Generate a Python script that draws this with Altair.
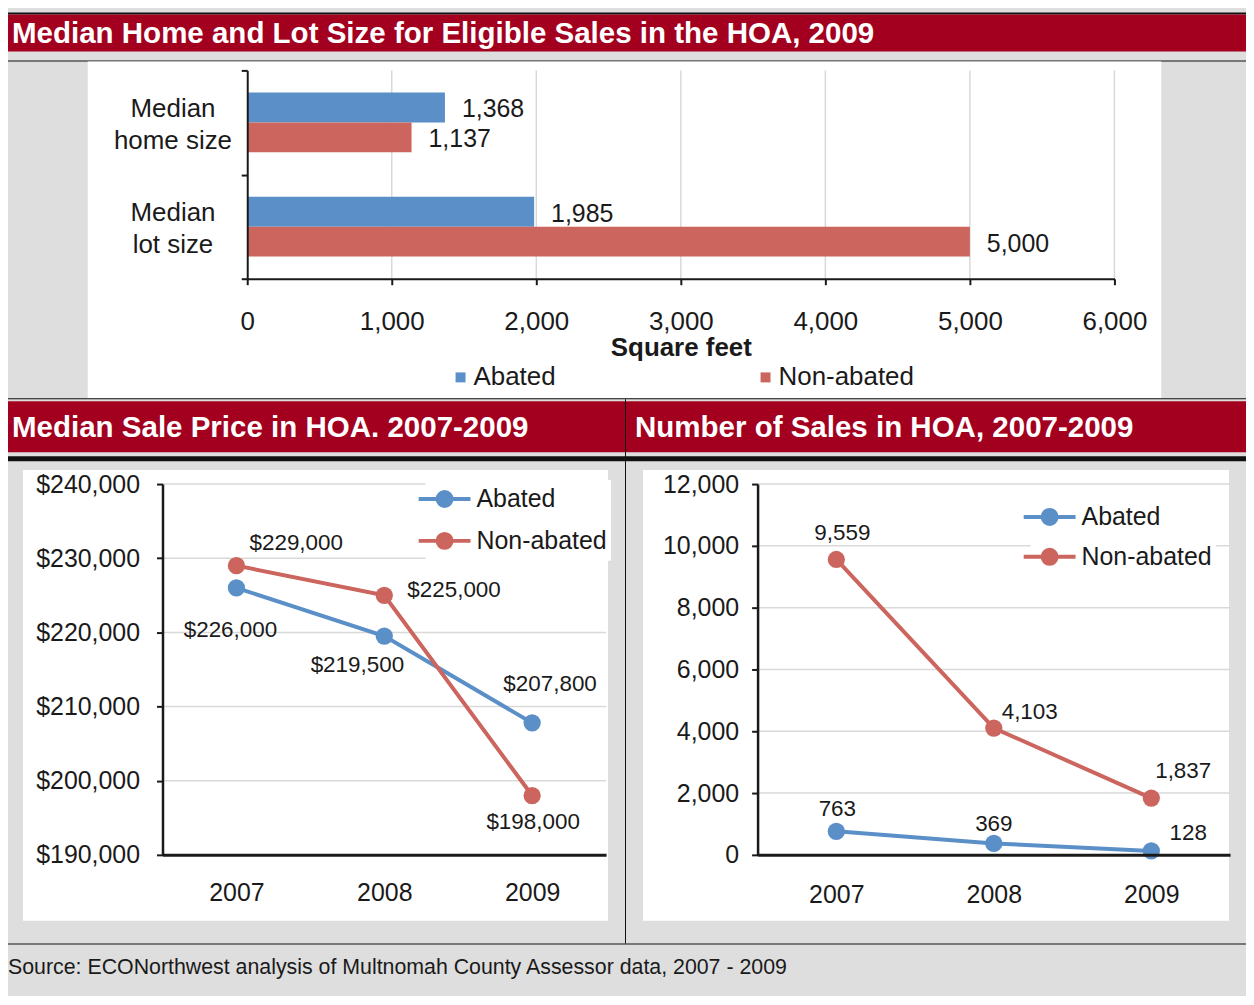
import altair as alt
import pandas as pd

# ---------------- data ----------------
series = ["Abated", "Non-abated"]

size_categories = ["Median|home size", "Median|lot size"]
home_size = [1368, 1137]          # abated, non-abated
lot_size = [1985, 5000]           # abated, non-abated
size_ticks = [0, 1000, 2000, 3000, 4000, 5000, 6000]

years = ["2007", "2008", "2009"]
price_abated = [226000, 219500, 207800]
price_non_abated = [229000, 225000, 198000]
price_ticks = [190000, 200000, 210000, 220000, 230000, 240000]

sales_abated = [763, 369, 128]
sales_non_abated = [9559, 4103, 1837]
sales_ticks = [0, 2000, 4000, 6000, 8000, 10000, 12000]

title_top = "Median Home and Lot Size for Eligible Sales in the HOA, 2009"
title_left = "Median Sale Price in HOA. 2007-2009"
title_right = "Number of Sales in HOA, 2007-2009"
source_note = "Source: ECONorthwest analysis of Multnomah County Assessor data, 2007 - 2009"

# ---------------- style ----------------
FONT = "Liberation Sans"
BLUE = "#5b8fc8"
RED = "#cb655e"
BAND = "#a3001f"
GRAY = "#dedede"
INK = "#1a1a1a"
BLACK = "#111111"
GRID = "#d9d9d9"
W, H = 1242, 988
TITLE_SIZE = 29.6
one_row = pd.DataFrame({"a": [0]})


def cscale():
    return alt.Scale(domain=series, range=[BLUE, RED])


def panel(x1, x2, y1, y2, color):
    return alt.Chart(one_row).mark_rect(color=color).encode(
        x=alt.value(x1), x2=alt.value(x2), y=alt.value(y1), y2=alt.value(y2))


def label(text, x, y, size, weight="normal", color=INK):
    return alt.Chart(pd.DataFrame({"t": [text]})).mark_text(
        align="left", baseline="alphabetic", font=FONT, fontSize=size,
        fontWeight=weight, color=color).encode(text="t:N", x=alt.value(x), y=alt.value(y))


# page decoration: bands, rules and white chart boxes (pixel frame)
decor = [
    panel(0, W, 3, 5, BLACK),
    panel(0, W, 5, 42, BAND),
    panel(0, W, 51, 52, BLACK),
    panel(80, 1157, 52, 390, "white"),
    panel(0, W, 390, 391, BLACK),
    panel(0, 619, 393, 444, BAND),
    panel(620, W, 393, 444, BAND),
    panel(0, W, 448, 453, BLACK),
    panel(619, 620, 391, 937, BLACK),
    panel(15, 602, 462, 914, "white"),
    panel(637, 1225, 462, 914, "white"),
    panel(0, W, 937, 938, BLACK),
]
texts = [
    label(title_top, 4, 34, TITLE_SIZE, "bold", "white"),
    label(title_left, 4, 429, TITLE_SIZE, "bold", "white"),
    label(title_right, 629, 429, TITLE_SIZE, "bold", "white"),
    label(source_note, 0, 968, 21.4),
]

# ---------------- bar chart (top) ----------------
BX0, BX1, BY0, BY1 = 240, 1110, 61, 270
bar_df = pd.DataFrame({
    "cat": [size_categories[0]] * 2 + [size_categories[1]] * 2,
    "series": series * 2,
    "value": home_size + lot_size,
})
bxs = alt.Scale(domain=[0, 6000], nice=False, range=[BX0, BX1])
bys = alt.Scale(domain=size_categories, paddingInner=0, paddingOuter=0, range=[BY0, BY1])
byo = alt.Scale(domain=series, paddingInner=0, paddingOuter=0.742)

bar_grid = alt.Chart(pd.DataFrame({"g": size_ticks[1:]})).mark_rule(
    color=GRID, strokeWidth=1.5).encode(
    x=alt.X("g:Q", scale=bxs), y=alt.value(BY0), y2=alt.value(BY1))
bars = alt.Chart(bar_df).mark_bar().encode(
    x=alt.X("value:Q", scale=bxs, axis=alt.Axis(
        orient="bottom", offset=BY1 - H,
        values=size_ticks, format=",.0f", title="Square feet", titleFontSize=26,
        titleFontWeight="bold", titleColor=INK, titlePadding=0, labelFontSize=26,
        labelColor=INK, labelPadding=24, tickSize=6, tickWidth=2, tickColor=INK,
        domainColor=INK, domainWidth=2, grid=False, zindex=1, labelFlush=False)),
    y=alt.Y("cat:N", scale=bys, axis=alt.Axis(
        orient="left", offset=-BX0,
        title=None, labelExpr="split(datum.label, '|')", labelAlign="center",
        labelPadding=69, labelOffset=-14, labelFontSize=26, labelLineHeight=32,
        labelColor=INK, tickBand="extent", tickSize=6, tickWidth=2, tickColor=INK,
        domainColor=INK, domainWidth=2, grid=False, zindex=1)),
    yOffset=alt.YOffset("series:N", scale=byo),
    color=alt.Color("series:N", scale=cscale(), legend=alt.Legend(
        title=None, orient="none", legendX=441, legendY=356, direction="horizontal",
        symbolType="square", symbolSize=100, symbolStrokeWidth=0, labelFontSize=26,
        labelColor=INK, labelOffset=0, columnPadding=197, padding=0)),
)
bar_labels = alt.Chart(bar_df).mark_text(
    align="left", baseline="middle", dx=17, dy=2, fontSize=25, color=INK).encode(
    x=alt.X("value:Q", scale=bxs),
    y=alt.Y("cat:N", scale=bys),
    yOffset=alt.YOffset("series:N", scale=byo),
    text=alt.Text("value:Q", format=",.0f"),
)
bar_chart = alt.layer(bar_grid, bars, bar_labels)

# ---------------- line charts ----------------
# legend glyph: a line with a disc built from concentric stroked rings (unit = 13 px)
_rings = "".join(
    f"M{r},0A{r},{r},0,1,1,-{r},0A{r},{r},0,1,1,{r},0" for r in (0.08, 0.23, 0.38, 0.54))
LEG_PATH = "M-2,0L2,0" + _rings


def line_chart(vals_a, vals_n, ticks, fmt, x0, x1, y0, y1, offsets, legend_xy,
               ylab_pad, xlab_pad, row_pad):
    df = pd.DataFrame({"year": years * 2,
                       "series": [series[0]] * 3 + [series[1]] * 3,
                       "v": vals_a + vals_n})
    xs = alt.Scale(type="point", domain=years, padding=0.5, range=[x0, x1])
    ys = alt.Scale(domain=[ticks[0], ticks[-1]], nice=False, zero=False, range=[y1, y0])
    grid = alt.Chart(pd.DataFrame({"g": ticks[1:]})).mark_rule(
        color=GRID, strokeWidth=1.5).encode(
        y=alt.Y("g:Q", scale=ys), x=alt.value(x0), x2=alt.value(x1))
    base = alt.Chart(df)
    xaxis = alt.Axis(orient="bottom", offset=y1 - H, title=None, labelAngle=0,
                     labelFontSize=25, labelColor=INK, labelPadding=xlab_pad, ticks=False,
                     tickSize=0, domainColor=INK, domainWidth=3, grid=False, zindex=1)
    yaxis = alt.Axis(orient="left", offset=-x0, title=None, values=ticks, format=fmt,
                     labelFontSize=25, labelColor=INK, labelPadding=ylab_pad, tickSize=6,
                     tickWidth=2, tickColor=INK, domainColor=INK, domainWidth=2.5,
                     grid=False, zindex=1)
    leg = alt.Legend(title=None, orient="none", legendX=legend_xy[0], legendY=legend_xy[1],
                     symbolType=LEG_PATH, symbolSize=676, symbolStrokeWidth=4,
                     labelFontSize=25, labelColor=INK, labelOffset=17, rowPadding=row_pad,
                     fillColor="white", padding=4)
    lines = base.mark_line(strokeWidth=4).encode(
        x=alt.X("year:O", scale=xs, axis=xaxis),
        y=alt.Y("v:Q", scale=ys, axis=yaxis),
        color=alt.Color("series:N", scale=cscale(), legend=leg))
    points = base.mark_point(filled=True, size=300, opacity=1).encode(
        x=alt.X("year:O", scale=xs),
        y=alt.Y("v:Q", scale=ys),
        color=alt.Color("series:N", scale=cscale()))
    labels = []
    for (s, yr), (dx, dy) in offsets.items():
        labels.append(
            base.transform_filter((alt.datum.series == s) & (alt.datum.year == yr))
            .mark_text(align="center", baseline="middle", dx=dx, dy=dy,
                       fontSize=22.5, color=INK)
            .encode(x=alt.X("year:O", scale=xs),
                    y=alt.Y("v:Q", scale=ys),
                    text=alt.Text("v:Q", format=fmt)))
    return alt.layer(grid, lines, points, *labels)


left_offsets = {
    ("Abated", "2007"): (-6, 42), ("Abated", "2008"): (-27, 29), ("Abated", "2009"): (18, -39),
    ("Non-abated", "2007"): (60, -23), ("Non-abated", "2008"): (70, -5),
    ("Non-abated", "2009"): (1, 27),
}
right_offsets = {
    ("Abated", "2007"): (1, -22), ("Abated", "2008"): (0, -19), ("Abated", "2009"): (37, -18),
    ("Non-abated", "2007"): (6, -27), ("Non-abated", "2008"): (36, -16),
    ("Non-abated", "2009"): (32, -27),
}

price_chart = line_chart(price_abated, price_non_abated, price_ticks, "$,.0f",
                         155, 600, 476, 848, left_offsets, (419, 472), 17, 26, 10)
sales_chart = line_chart(sales_abated, sales_non_abated, sales_ticks, ",.0f",
                         752, 1226, 476, 848, right_offsets, (1026, 490), 13, 28, 8)

chart = alt.layer(*decor, bar_chart, price_chart, sales_chart, *texts).resolve_scale(
    x="independent", y="independent", color="independent", yOffset="independent"
).resolve_axis(x="independent", y="independent").resolve_legend(color="independent").properties(
    width=W, height=H, padding=0, background=GRAY,
    autosize=alt.AutoSizeParams(type="none"),
).configure(font=FONT).configure_view(stroke="transparent")

chart.save("out.html", embed_options={"renderer": "svg", "actions": False})
